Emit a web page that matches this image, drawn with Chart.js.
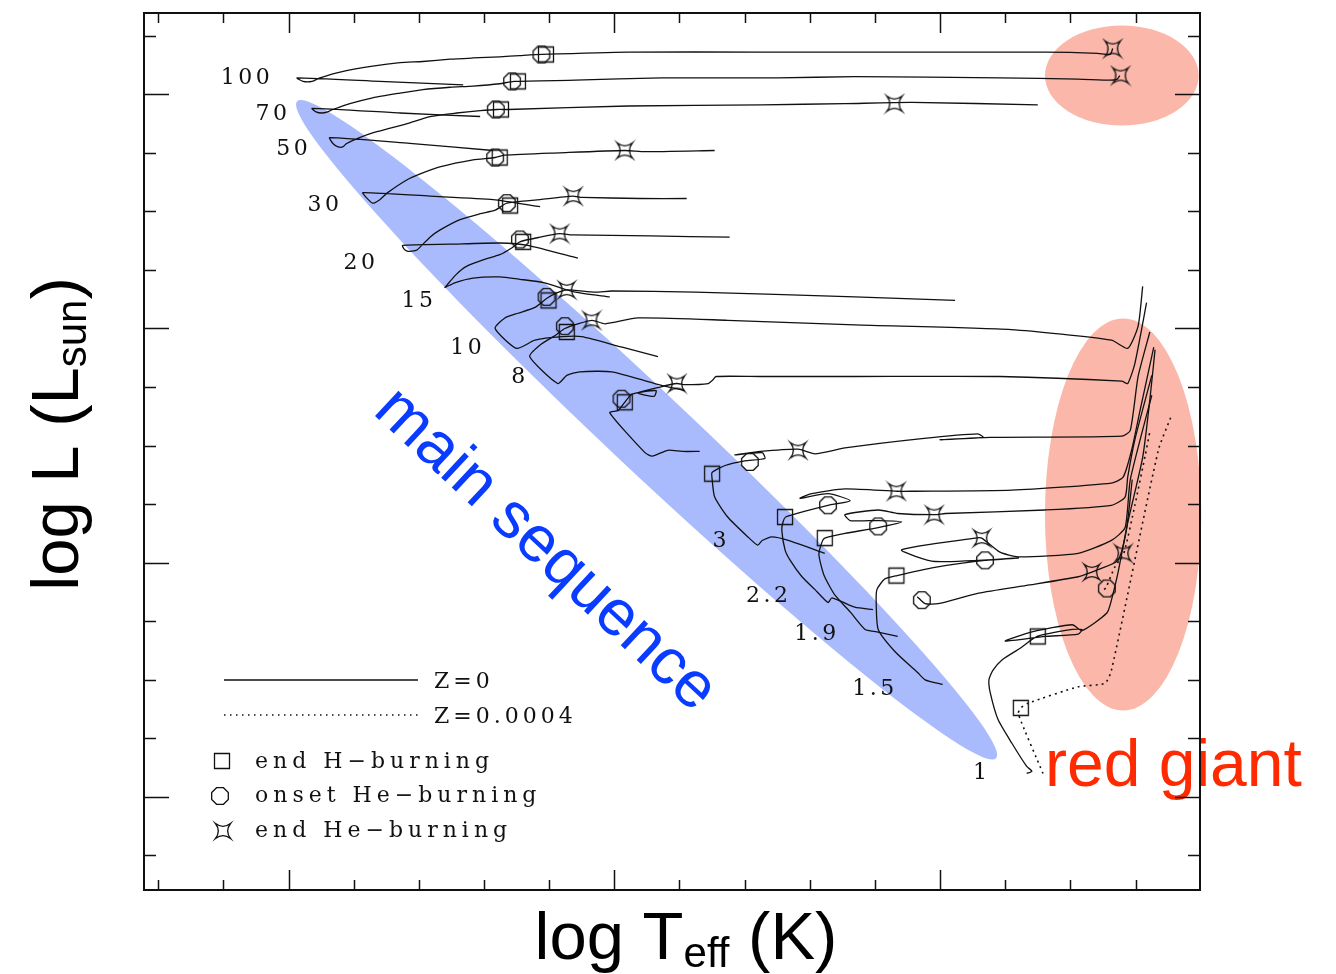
<!DOCTYPE html>
<html>
<head>
<meta charset="utf-8">
<title>Z=0 evolutionary tracks</title>
<script src="https://cdn.jsdelivr.net/npm/chart.js@4.4.1/dist/chart.umd.min.js"></script>
<style>
  html, body { margin: 0; padding: 0; background: #fff; }
  #wrap { width: 1336px; height: 974px; }
</style>
</head>
<body>
<div id="wrap"><canvas id="hr" width="1336" height="974"></canvas></div>
<script>
// Evolutionary tracks, [log Teff, log L] pairs (Z=0 solid)
const track100 = [[4.732,6.08],[4.860,6.11],[4.987,6.14],[4.978,6.11],[4.964,6.11],[4.952,6.14],[4.921,6.19],[4.871,6.24],[4.829,6.27],[4.794,6.28],[4.752,6.30],[4.717,6.31],[4.676,6.32],[4.645,6.33],[4.611,6.34],[4.479,6.36],[4.273,6.36],[4.131,6.36],[3.839,6.36],[3.758,6.35],[3.739,6.34],[3.735,6.39]];
const track70 = [[4.706,5.81],[4.829,5.84],[4.964,5.88],[4.958,5.85],[4.949,5.84],[4.940,5.85],[4.932,5.87],[4.906,5.92],[4.871,5.97],[4.829,6.01],[4.794,6.04],[4.752,6.06],[4.717,6.07],[4.676,6.09],[4.654,6.11],[4.560,6.12],[4.427,6.14],[4.249,6.14],[4.131,6.15],[3.908,6.14],[3.788,6.13],[3.739,6.12],[3.728,6.13],[3.724,6.16]];
const track50 = [[4.686,5.52],[4.814,5.58],[4.937,5.63],[4.932,5.58],[4.924,5.55],[4.917,5.55],[4.911,5.58],[4.891,5.63],[4.871,5.67],[4.844,5.71],[4.818,5.75],[4.783,5.81],[4.742,5.84],[4.706,5.86],[4.680,5.87],[4.663,5.87],[4.479,5.90],[4.273,5.91],[4.146,5.92],[4.043,5.93],[3.850,5.91]];
const track30 = [[4.614,5.04],[4.686,5.10],[4.783,5.13],[4.886,5.16],[4.881,5.12],[4.871,5.07],[4.860,5.10],[4.848,5.16],[4.818,5.27],[4.798,5.32],[4.768,5.38],[4.717,5.44],[4.683,5.46],[4.668,5.48],[4.584,5.50],[4.484,5.52],[4.453,5.51],[4.346,5.52]];
const track20 = [[4.556,4.60],[4.633,4.71],[4.676,4.73],[4.752,4.72],[4.825,4.71],[4.823,4.68],[4.818,4.66],[4.811,4.66],[4.803,4.67],[4.783,4.78],[4.768,4.84],[4.737,4.93],[4.706,4.98],[4.683,5.01],[4.665,5.07],[4.614,5.10],[4.564,5.13],[4.550,5.12],[4.461,5.11],[4.389,5.11]];
const track15 = [[4.507,4.27],[4.560,4.31],[4.607,4.39],[4.645,4.42],[4.676,4.44],[4.717,4.43],[4.745,4.39],[4.760,4.35],[4.757,4.37],[4.743,4.46],[4.727,4.53],[4.699,4.59],[4.676,4.63],[4.657,4.69],[4.645,4.74],[4.614,4.78],[4.584,4.81],[4.565,4.80],[4.445,4.79],[4.323,4.78]];
const track10 = [[4.433,3.76],[4.488,3.84],[4.550,3.93],[4.580,3.93],[4.622,3.90],[4.650,3.83],[4.683,4.00],[4.668,4.09],[4.648,4.13],[4.622,4.18],[4.603,4.26],[4.590,4.30],[4.573,4.33],[4.530,4.31],[4.504,4.32],[4.376,4.31],[4.131,4.27],[3.977,4.24]];
const track8 = [[4.392,3.47],[4.438,3.53],[4.504,3.63],[4.553,3.63],[4.573,3.60],[4.587,3.53],[4.630,3.76],[4.614,3.86],[4.591,3.94],[4.576,4.00],[4.556,4.04],[4.534,4.07],[4.514,4.04],[4.464,4.09],[4.326,4.07],[4.131,4.03],[3.891,3.99],[3.737,3.90],[3.712,3.83],[3.696,4.02],[3.689,4.36]];
const track5 = [[4.369,2.95],[4.396,2.95],[4.418,2.96],[4.442,2.91],[4.453,2.94],[4.507,3.28],[4.494,3.30],[4.484,3.37],[4.473,3.44],[4.436,3.47],[4.439,3.42],[4.464,3.45],[4.430,3.50],[4.404,3.53],[4.392,3.52],[4.356,3.53],[4.349,3.56],[4.344,3.59],[4.276,3.59],[4.131,3.59],[3.908,3.59],[3.721,3.55],[3.712,3.53],[3.701,3.70],[3.683,4.22]];
const track3 = [[4.177,2.08],[4.233,2.19],[4.258,2.22],[4.273,2.19],[4.280,2.15],[4.295,2.22],[4.326,2.39],[4.346,2.56],[4.350,2.72],[4.350,2.77],[4.330,2.83],[4.300,2.87],[4.269,2.89],[4.273,2.94],[4.315,2.92],[4.276,2.95],[4.218,2.97],[4.192,2.93],[4.146,2.98],[4.028,3.06],[3.942,3.10],[3.934,3.07],[4.000,3.05],[3.923,3.07],[3.721,3.08],[3.708,3.13],[3.696,3.59],[3.678,3.97]];
const track2p2 = [[4.103,1.60],[4.131,1.62],[4.166,1.70],[4.172,1.66],[4.192,1.77],[4.212,1.88],[4.230,2.02],[4.238,2.11],[4.243,2.28],[4.241,2.35],[4.237,2.39],[4.207,2.44],[4.172,2.49],[4.138,2.53],[4.172,2.59],[4.215,2.55],[4.197,2.59],[4.146,2.63],[4.066,2.61],[4.044,2.61],[3.890,2.62],[3.737,2.68],[3.719,2.73],[3.706,2.96],[3.693,3.30],[3.672,3.84]];
const track1p9 = [[4.065,1.37],[4.097,1.41],[4.115,1.43],[4.138,1.58],[4.161,1.72],[4.178,1.89],[4.186,2.07],[4.181,2.18],[4.177,2.21],[4.146,2.25],[4.095,2.30],[4.059,2.35],[4.095,2.36],[4.138,2.36],[4.146,2.41],[4.095,2.45],[4.065,2.42],[4.008,2.41],[3.992,2.42],[3.839,2.45],[3.737,2.49],[3.716,2.56],[3.712,2.73],[3.701,3.05],[3.675,3.60]];
const track1p5 = [[3.996,0.96],[4.023,1.00],[4.034,1.06],[4.069,1.24],[4.095,1.43],[4.098,1.64],[4.097,1.77],[4.085,1.86],[4.066,1.89],[4.008,1.96],[3.931,2.02],[3.880,2.04],[4.008,2.01],[4.059,2.11],[3.946,2.21],[3.936,2.21],[3.908,2.09],[3.880,2.05],[3.788,2.08],[3.737,2.19],[3.716,2.30],[3.708,2.71],[3.675,3.43]];
const track1 = [[3.867,0.20],[3.859,0.22],[3.867,0.26],[3.890,0.46],[3.911,0.66],[3.923,0.89],[3.925,1.00],[3.919,1.08],[3.905,1.17],[3.877,1.27],[3.851,1.37],[3.797,1.43],[3.782,1.43],[3.788,1.39],[3.839,1.37],[3.900,1.33],[3.859,1.41],[3.797,1.47],[3.782,1.42],[3.744,1.57],[3.737,1.68],[3.727,1.91],[3.712,2.34],[3.689,2.90],[3.678,3.39],[3.670,3.82]];
const track1HB = [[4.035,1.71],[4.023,1.65],[4.003,1.65],[3.941,1.74],[3.862,1.81],[3.788,1.88],[3.767,1.92],[3.758,1.94],[3.727,2.02],[3.714,2.28],[3.705,2.71]];
// Z=0.0004 comparison track (dotted)
const trackZ4 = [[3.842,0.20],[3.880,0.71],[3.876,0.76],[3.865,0.80],[3.788,0.94],[3.747,0.97],[3.737,1.08],[3.665,2.96],[3.646,3.24]];
const trackZ4HB = [[3.748,1.77],[3.745,1.79],[3.732,1.96],[3.718,2.08],[3.701,2.49],[3.685,2.92],[3.678,3.12]];

// phase markers
const endHburning = [[4.605,6.34],[4.648,6.11],[4.674,5.87],[4.676,5.46],[4.660,5.05],[4.640,4.74],[4.601,4.24],[4.573,3.97],[4.484,3.37],[4.350,2.76],[4.238,2.39],[4.177,2.21],[4.067,1.89],[3.850,1.37],[3.876,0.76]];
const onsetHeburning = [[4.612,6.34],[4.657,6.11],[4.682,5.87],[4.683,5.46],[4.665,5.07],[4.645,4.76],[4.604,4.27],[4.576,4.02],[4.489,3.40],[4.292,2.86],[4.172,2.49],[4.095,2.31],[3.931,2.02],[4.028,1.68],[3.744,1.78]];
const endHeburning = [[3.735,6.39],[3.723,6.16],[4.070,5.92],[4.484,5.52],[4.563,5.13],[4.584,4.81],[4.573,4.33],[4.535,4.07],[4.404,3.53],[4.218,2.96],[4.067,2.61],[4.009,2.41],[3.936,2.21],[3.767,1.92],[3.719,2.08]];

// mass labels (Msun) and where they sit
const massLabels = ['100','70','50','30','20','15','10','8','3','2.2','1.9','1.5','1'];
const massLabelT = [5.064,5.024,4.992,4.944,4.889,4.800,4.725,4.645,4.336,4.263,4.189,4.100,3.936];
const massLabelL = [6.14,5.83,5.53,5.05,4.56,4.23,3.83,3.58,2.18,1.71,1.39,0.92,0.20];

// highlighted regions
const msBandEnds = [[4.987,5.94],[3.914,0.33]];
const giantRegions = [[3.721,6.16,0.118,0.427],[3.719,2.412,0.120,1.674]]; // centre T, centre L, half-width T, half-height L
const msTextAt = [4.607,2.10];
const rgTextAt = [3.839,0.09];

// axis ticks (no labels on the original)
const xTicks = [3.7,3.8,3.9,4.0,4.1,4.2,4.3,4.4,4.5,4.6,4.7,4.8,4.9,5.0,5.1,5.2];
const xMajor = [4.0,4.5,5.0];
const yTicks = [-0.5,0,0.5,1,1.5,2,2.5,3,3.5,4,4.5,5,5.5,6,6.5];
const yMajor = [0,2,4,6];

// marker glyphs
function makeMarker(kind) {
  const c = document.createElement('canvas');
  c.width = 22; c.height = 22;
  const g = c.getContext('2d');
  g.strokeStyle = '#111';
  g.lineWidth = 1.3;
  g.translate(11, 11);
  g.beginPath();
  if (kind === 'square') {
    g.rect(-7.5, -7.5, 15, 15);
  } else if (kind === 'circle') {
    for (let i = 0; i < 8; i++) {
      const a = (i + 0.5) * Math.PI / 4;
      const px = 9 * Math.cos(a), py = 9 * Math.sin(a);
      if (i === 0) g.moveTo(px, py); else g.lineTo(px, py);
    }
    g.closePath();
  } else {
    const r = 7.5, k = 0.25 * r;
    g.moveTo(-r, -r);
    g.quadraticCurveTo(0, -k, r, -r);
    g.quadraticCurveTo(k, 0, r, r);
    g.quadraticCurveTo(0, k, -r, r);
    g.quadraticCurveTo(-k, 0, -r, -r);
    g.closePath();
  }
  g.stroke();
  return c;
}
const squareImg = makeMarker('square');
const circleImg = makeMarker('circle');
const starImg = makeMarker('star');

const toXY = pts => pts.map(([x, y]) => ({ x, y }));
const solidTracks = [track100, track70, track50, track30, track20, track15, track10, track8, track5, track3, track2p2, track1p9, track1p5, track1, track1HB];
const dottedTracks = [trackZ4, trackZ4HB];

const datasets = [
  { data: toXY(endHburning), pointStyle: squareImg, pointRadius: 5, showLine: false, order: 0 },
  { data: toXY(onsetHeburning), pointStyle: circleImg, pointRadius: 5, showLine: false, order: 0 },
  { data: toXY(endHeburning), pointStyle: starImg, pointRadius: 5, showLine: false, order: 0 },
  ...solidTracks.map(t => ({ data: toXY(t), showLine: true, borderColor: '#111', borderWidth: 1.3, pointRadius: 0, tension: 0.2, order: 2 })),
  ...dottedTracks.map(t => ({ data: toXY(t), showLine: true, borderColor: '#111', borderWidth: 1.6, borderDash: [2, 4], pointRadius: 0, tension: 0.2, order: 2 }))
];

const SERIF = '"DejaVu Serif", "Liberation Serif", serif';
const SANS = '"Liberation Sans", Arial, Helvetica, sans-serif';

const deco = {
  id: 'deco',
  beforeDatasetsDraw(chart) {
    const { ctx } = chart;
    const xs = chart.scales.x, ys = chart.scales.y;
    ctx.save();
    // main sequence band
    const x1 = xs.getPixelForValue(msBandEnds[0][0]), y1 = ys.getPixelForValue(msBandEnds[0][1]);
    const x2 = xs.getPixelForValue(msBandEnds[1][0]), y2 = ys.getPixelForValue(msBandEnds[1][1]);
    ctx.fillStyle = 'rgb(170,187,253)';
    ctx.beginPath();
    ctx.ellipse((x1 + x2) / 2, (y1 + y2) / 2, Math.hypot(x2 - x1, y2 - y1) / 2, 40, Math.atan2(y2 - y1, x2 - x1), 0, Math.PI * 2);
    ctx.fill();
    // red giant regions
    ctx.fillStyle = 'rgb(251,183,170)';
    giantRegions.forEach(([t, l, dt, dl]) => {
      const cx = xs.getPixelForValue(t), cy = ys.getPixelForValue(l);
      const rx = Math.abs(xs.getPixelForValue(t + dt) - cx);
      const ry = Math.abs(ys.getPixelForValue(l + dl) - cy);
      ctx.beginPath();
      ctx.ellipse(cx, cy, rx, ry, 0, 0, Math.PI * 2);
      ctx.fill();
    });
    ctx.restore();
  },
  afterDatasetsDraw(chart) {
    const { ctx } = chart;
    const xs = chart.scales.x, ys = chart.scales.y;
    ctx.save();
    // mass labels
    ctx.fillStyle = '#111';
    ctx.font = '22px ' + SERIF;
    ctx.letterSpacing = '3.5px';
    ctx.textAlign = 'center';
    ctx.textBaseline = 'middle';
    massLabels.forEach((m, i) => {
      ctx.fillText(m, xs.getPixelForValue(massLabelT[i]), ys.getPixelForValue(massLabelL[i]));
    });

    // legend
    ctx.textAlign = 'left';
    ctx.textBaseline = 'alphabetic';
    ctx.letterSpacing = '5px';
    ctx.strokeStyle = '#111';
    ctx.lineWidth = 1.3;
    ctx.beginPath(); ctx.moveTo(224, 680); ctx.lineTo(418, 680); ctx.stroke();
    ctx.setLineDash([1.5, 4.5]);
    ctx.beginPath(); ctx.moveTo(224, 715); ctx.lineTo(418, 715); ctx.stroke();
    ctx.setLineDash([]);
    ctx.letterSpacing = '4px';
    ctx.fillText('Z=0', 434, 688);
    ctx.fillText('Z=0.0004', 434, 723);
    ctx.letterSpacing = '5px';
    ctx.drawImage(squareImg, 222 - 11, 761 - 11);
    ctx.drawImage(circleImg, 220 - 11, 796 - 11);
    ctx.drawImage(starImg, 223 - 11, 831 - 11);
    ctx.fillText('end H\u2212burning', 255, 768);
    ctx.fillText('onset He\u2212burning', 255, 802);
    ctx.fillText('end He\u2212burning', 255, 837);

    // region names
    ctx.letterSpacing = '0px';
    ctx.fillStyle = '#0a3cff';
    ctx.font = '65px ' + SANS;
    ctx.translate(xs.getPixelForValue(msTextAt[0]), ys.getPixelForValue(msTextAt[1]));
    ctx.rotate(43 * Math.PI / 180);
    ctx.textAlign = 'center';
    ctx.fillText('main sequence', 0, 17);
    ctx.setTransform(1, 0, 0, 1, 0, 0);
    ctx.fillStyle = '#ff2a00';
    ctx.font = '66px ' + SANS;
    ctx.textAlign = 'left';
    ctx.fillText('red giant', xs.getPixelForValue(rgTextAt[0]), ys.getPixelForValue(rgTextAt[1]));
    ctx.restore();
  },
  afterDraw(chart) {
    const { ctx, chartArea: a } = chart;
    const xs = chart.scales.x, ys = chart.scales.y;
    ctx.save();
    ctx.strokeStyle = '#111';
    // ticks on all four sides, pointing inwards
    ctx.lineWidth = 1.5;
    ctx.beginPath();
    xTicks.forEach(v => {
      const px = Math.round(xs.getPixelForValue(v)) + 0.5;
      const len = xMajor.includes(v) ? 20 : 10;
      ctx.moveTo(px, a.bottom); ctx.lineTo(px, a.bottom - len);
      ctx.moveTo(px, a.top); ctx.lineTo(px, a.top + len);
    });
    yTicks.forEach(v => {
      const py = Math.round(ys.getPixelForValue(v)) + 0.5;
      const len = yMajor.includes(v) ? 25 : 12;
      ctx.moveTo(a.left, py); ctx.lineTo(a.left + len, py);
      ctx.moveTo(a.right, py); ctx.lineTo(a.right - len, py);
    });
    ctx.stroke();
    ctx.lineWidth = 2;
    ctx.strokeRect(a.left, a.top, a.right - a.left, a.bottom - a.top);

    // axis titles
    ctx.fillStyle = '#000';
    ctx.textAlign = 'left';
    ctx.textBaseline = 'alphabetic';
    const big = '67px ' + SANS, small = '42px ' + SANS;
    ctx.font = big;
    const wA = ctx.measureText('log T').width, wC = ctx.measureText(' (K)').width;
    ctx.font = small;
    const wB = ctx.measureText('eff').width;
    let x0 = 686 - (wA + wB + wC) / 2;
    ctx.font = big; ctx.fillText('log T', x0, 959);
    ctx.font = small; ctx.fillText('eff', x0 + wA, 967);
    ctx.font = big; ctx.fillText(' (K)', x0 + wA + wB, 959);

    ctx.font = big;
    const wL = ctx.measureText('log L (L').width, wR = ctx.measureText(')').width;
    ctx.font = small;
    const wS = ctx.measureText('sun').width;
    ctx.translate(78, 434);
    ctx.rotate(-Math.PI / 2);
    x0 = -(wL + wS + wR) / 2;
    ctx.font = big; ctx.fillText('log L (L', x0, 0);
    ctx.font = small; ctx.fillText('sun', x0 + wL, 8);
    ctx.font = big; ctx.fillText(')', x0 + wL + wS, 0);
    ctx.restore();
  }
};

new Chart(document.getElementById('hr'), {
  type: 'scatter',
  data: { datasets },
  options: {
    responsive: false,
    devicePixelRatio: 1,
    animation: false,
    events: [],
    layout: { padding: { left: 144, right: 136, top: 13, bottom: 84 } },
    scales: {
      x: { type: 'linear', min: 3.601, max: 5.222, reverse: true, display: false },
      y: { type: 'linear', min: -0.795, max: 6.694, display: false }
    },
    plugins: { legend: { display: false }, tooltip: { enabled: false } }
  },
  plugins: [deco]
});
</script>
</body>
</html>
